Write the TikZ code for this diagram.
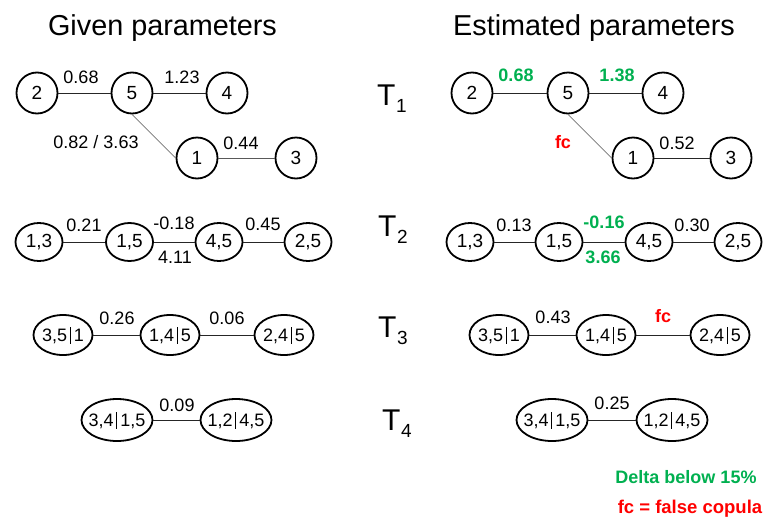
\documentclass[tikz,border=0pt]{standalone}
\usepackage{fontspec}
\setmainfont{Liberation Sans}
\usetikzlibrary{shapes.geometric}
\definecolor{okgreen}{HTML}{00B050}
\definecolor{fcred}{HTML}{FF0000}
\newcommand\fs[1]{\fontsize{#1}{#1}\selectfont}
\newcommand\Tlab[1]{T\kern0.5pt\raisebox{-7pt}{\fs{19}#1}}
\newcommand\cbar{\kern2.5pt\raisebox{-2.5pt}{\rule{1.3pt}{17pt}}\kern3pt}
\newcommand\zw[1]{\makebox[0pt]{#1}}
\begin{document}
\begin{tikzpicture}[x=1pt,y=-1pt,
  vcirc/.style={circle,draw,line width=1.8pt,minimum size=41pt,inner sep=0pt,font=\fs{19}},
  pair/.style={ellipse,draw,line width=1.8pt,minimum width=47pt,minimum height=38pt,inner sep=0pt,font=\fs{19}},
  cond/.style={ellipse,draw,line width=1.8pt,minimum width=59pt,minimum height=40pt,inner sep=0pt,font=\fs{18}},
  condb/.style={ellipse,draw,line width=1.8pt,minimum width=71pt,minimum height=42pt,inner sep=0pt,font=\fs{18}},
  edge/.style={line width=0.8pt,black!85},
  lab/.style={font=\fs{18},inner sep=0pt},
  glab/.style={font=\fs{18}\bfseries,text=okgreen,inner sep=0pt},
  rlab/.style={font=\fs{18}\bfseries,text=fcred,inner sep=0pt},
  head/.style={font=\fs{28.8},inner sep=0pt,anchor=base},
  tlab/.style={font=\fs{30},inner sep=0pt,anchor=base west}]
\useasboundingbox (0,0) rectangle (765,517);

% headings
\node[head] (hg) at (162.5,35) {Given parameters};
\node[head] (he) at (594,35) {Estimated parameters};

% tree labels
\node[tlab] (t1) at (377,105) {\Tlab{1}};
\node[tlab] (t2) at (378,236) {\Tlab{2}};
\node[tlab] (t3) at (378,337) {\Tlab{3}};
\node[tlab] (t4) at (382,430) {\Tlab{4}};

% ---------- Given T1
\node[vcirc] (a2) at (37,93) {2};
\node[vcirc] (a5) at (132,93) {5};
\node[vcirc] (a4) at (227,93) {4};
\node[vcirc] (a1) at (197,158) {1};
\node[vcirc] (a3) at (296,158) {3};
\draw[edge] (a2) -- (a5);
\draw[edge] (a5) -- (a4);
\draw[edge,black!55] (a5.south) -- (a1.west);
\draw[edge,black!65] (a1) -- (a3);
\node[lab] (la25) at (81,77) {0.68};
\node[lab] (la54) at (182,77) {1.23};
\node[lab] (la51) at (96,142) {0.82 / 3.63};
\node[lab] (la13) at (241,143) {0.44};

% ---------- Estimated T1
\node[vcirc] (b2) at (472,93) {2};
\node[vcirc] (b5) at (568,93) {5};
\node[vcirc] (b4) at (663,93) {4};
\node[vcirc] (b1) at (633,158) {1};
\node[vcirc] (b3) at (731,158) {3};
\draw[edge] (b2) -- (b5);
\draw[edge] (b5) -- (b4);
\draw[edge,black!55] (b5.south) -- (b1.west);
\draw[edge] (b1) -- (b3);
\node[glab] (lb25) at (516,75) {0.68};
\node[glab] (lb54) at (617,75) {1.38};
\node[rlab] (lb51) at (563,142) {fc};
\node[lab] (lb13) at (677,143) {0.52};

% ---------- Given T2
\node[pair] (c13) at (39,242) {1,3};
\node[pair] (c15) at (129.5,242) {1,5};
\node[pair] (c45) at (219,242) {4,5};
\node[pair] (c25) at (308,242) {2,5};
\draw[edge] (c13) -- (c15);
\draw[edge] (c15) -- (c45);
\draw[edge] (c45) -- (c25);
\node[lab] (lc1) at (84,225) {0.21};
\node[lab] (lc2) at (174,223) {-0.18};
\node[lab] (lc3) at (175,257) {4.11};
\node[lab] (lc4) at (263,224) {0.45};

% ---------- Estimated T2
\node[pair] (d13) at (470,242) {1,3};
\node[pair] (d15) at (559,242) {1,5};
\node[pair] (d45) at (649,242) {4,5};
\node[pair] (d25) at (738,242) {2,5};
\draw[edge] (d13) -- (d15);
\draw[edge] (d15) -- (d45);
\draw[edge] (d45) -- (d25);
\node[lab] (ld1) at (514,225) {0.13};
\node[glab] (ld2) at (604,222) {-0.16};
\node[glab] (ld3) at (603,257) {3.66};
\node[lab] (ld4) at (692,225) {0.30};

% ---------- Given T3
\node[cond] (e1) at (63,335) {\zw{3,5\cbar 1}};
\node[cond] (e2) at (170,335) {\zw{1,4\cbar 5}};
\node[cond] (e3) at (284,335) {\zw{2,4\cbar 5}};
\draw[edge] (e1) -- (e2);
\draw[edge] (e2) -- (e3);
\node[lab] (le1) at (117,318) {0.26};
\node[lab] (le2) at (227,318) {0.06};

% ---------- Estimated T3
\node[cond] (f1) at (499,335) {\zw{3,5\cbar 1}};
\node[cond] (f2) at (606,335) {\zw{1,4\cbar 5}};
\node[cond] (f3) at (720,335) {\zw{2,4\cbar 5}};
\draw[edge] (f1) -- (f2);
\draw[edge] (f2) -- (f3);
\node[lab] (lf1) at (553,317) {0.43};
\node[rlab] (lf2) at (663,316) {fc};

% ---------- Given T4
\node[condb] (g1) at (117,420) {\zw{3,4\cbar 1,5}};
\node[condb] (g2) at (236,420) {\zw{1,2\cbar 4,5}};
\draw[edge] (g1) -- (g2);
\node[lab] (lg1) at (177,405) {0.09};

% ---------- Estimated T4
\node[condb] (h1) at (552,420) {\zw{3,4\cbar 1,5}};
\node[condb] (h2) at (672,420) {\zw{1,2\cbar 4,5}};
\draw[edge] (h1) -- (h2);
\node[lab] (lh1) at (612,403) {0.25};

% legend
\node[font=\fs{18}\bfseries,text=okgreen,inner sep=0pt,anchor=base] (leg1) at (686,483) {Delta below 15\%};
\node[font=\fs{18.5}\bfseries,text=fcred,inner sep=0pt,anchor=base] (leg2) at (690,513) {fc = false copula};
\end{tikzpicture}
\end{document}
